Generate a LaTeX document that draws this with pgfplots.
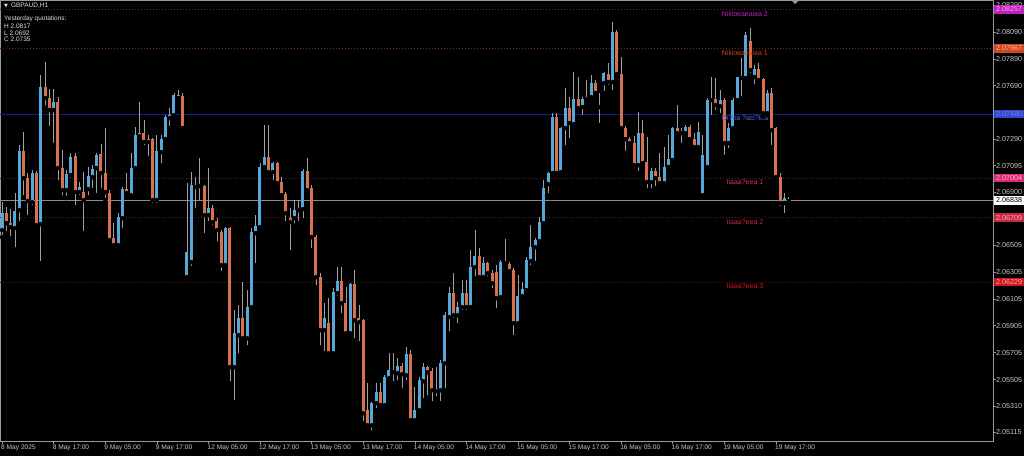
\documentclass[border=0pt]{standalone}
\usepackage{pgfplots}
\pgfplotsset{compat=1.18}
\usepackage{pgfplotstable}
\usepackage{fontspec}
\setmainfont{Liberation Sans}
\newfontfamily\symfont{DejaVu Sans}

\definecolor{bull}{HTML}{55A8DA}
\definecolor{bear}{HTML}{D9714E}
\definecolor{wick}{HTML}{A0A0A0}
\definecolor{frame}{HTML}{9A9A9A}
\definecolor{lbl}{HTML}{C8C8C8}
\definecolor{resB}{HTML}{C020C0}
\definecolor{resA}{HTML}{D2461E}
\definecolor{pivot}{HTML}{1428C8}
\definecolor{supA}{HTML}{DC2878}
\definecolor{supB}{HTML}{C8283C}
\definecolor{supC}{HTML}{D2141E}
\definecolor{cur}{HTML}{8C8C8C}

% GBPAUD H1: bar index, open, high, low, close
\pgfplotstableread{
h o hi lo c
0 2.06616 2.06824 2.06564 2.06742
1 2.06742 2.06787 2.06593 2.06668
2 2.06668 2.06772 2.06556 2.06638
3 2.06631 2.06891 2.06474 2.06757
4 2.06765 2.07248 2.06668 2.07204
5 2.07204 2.07345 2.06861 2.07003
6 2.07003 2.07040 2.06713 2.06832
7 2.06824 2.07062 2.06787 2.07040
8 2.07040 2.07055 2.06638 2.06653
9 2.06660 2.07769 2.06370 2.07680
10 2.07680 2.07866 2.07531 2.07598
11 2.07598 2.07665 2.07375 2.07509
12 2.07509 2.07665 2.07248 2.07568
13 2.07568 2.07605 2.06973 2.07077
14 2.07077 2.07211 2.06861 2.06913
15 2.06913 2.07062 2.06854 2.07032
16 2.07025 2.07189 2.06988 2.07159
17 2.07166 2.07189 2.06787 2.06899
18 2.06899 2.06973 2.06861 2.06936
19 2.06899 2.07047 2.06593 2.06839
20 2.06921 2.07085 2.06861 2.07018
21 2.07010 2.07099 2.06913 2.07070
22 2.07077 2.07189 2.06876 2.07174
23 2.07181 2.07256 2.06913 2.07040
24 2.07040 2.07375 2.06839 2.06899
25 2.06891 2.06913 2.06527 2.06541
26 2.06556 2.06668 2.06482 2.06504
27 2.06504 2.06742 2.06489 2.06713
28 2.06705 2.06936 2.06616 2.06921
29 2.06921 2.07040 2.06861 2.06891
30 2.06876 2.07189 2.06861 2.07077
31 2.07077 2.07382 2.07062 2.07323
32 2.07315 2.07568 2.07300 2.07337
33 2.07337 2.07434 2.07233 2.07271
34 2.07293 2.07323 2.07151 2.07271
35 2.07293 2.07300 2.06802 2.06839
36 2.06839 2.07323 2.06802 2.07204
37 2.07196 2.07323 2.07099 2.07293
38 2.07293 2.07471 2.07278 2.07457
39 2.07449 2.07523 2.07375 2.07471
40 2.07471 2.07635 2.07457 2.07620
41 2.07620 2.07657 2.07583 2.07598
42 2.07613 2.07635 2.07345 2.07375
43 2.06266 2.06965 2.06266 2.06452
44 2.06378 2.07047 2.06333 2.06951
45 2.06951 2.07010 2.06765 2.06936
46 2.06943 2.07151 2.06817 2.06950
47 2.06943 2.06951 2.06579 2.06727
48 2.06727 2.07077 2.06668 2.06779
49 2.06779 2.06802 2.06638 2.06675
50 2.06683 2.06705 2.06519 2.06616
51 2.06601 2.06616 2.06296 2.06355
52 2.06355 2.06638 2.06341 2.06631
53 2.06631 2.06638 2.05477 2.05597
54 2.05597 2.06021 2.05336 2.05849
55 2.05835 2.06058 2.05686 2.05961
56 2.05961 2.06229 2.05783 2.05812
57 2.05812 2.06169 2.05745 2.06043
58 2.06043 2.06631 2.06035 2.06601
59 2.06593 2.06727 2.06355 2.06646
60 2.06638 2.07114 2.06631 2.07085
61 2.07085 2.07397 2.07077 2.07159
62 2.07159 2.07397 2.07040 2.07047
63 2.07047 2.07122 2.06973 2.07114
64 2.07114 2.07122 2.06951 2.06965
65 2.06973 2.07010 2.06854 2.06876
66 2.06884 2.06899 2.06668 2.06742
67 2.06705 2.06779 2.06452 2.06675
68 2.06705 2.06839 2.06653 2.06765
69 2.06765 2.06839 2.06668 2.06779
70 2.06772 2.07070 2.06690 2.07055
71 2.07055 2.07151 2.06899 2.06913
72 2.06928 2.06951 2.06467 2.06564
73 2.06564 2.06579 2.06192 2.06266
74 2.06266 2.06296 2.05745 2.05872
75 2.05872 2.06073 2.05701 2.05961
76 2.05924 2.06110 2.05671 2.05701
77 2.05701 2.06184 2.05686 2.06155
78 2.06147 2.06341 2.06110 2.06236
79 2.06236 2.06341 2.05983 2.06073
80 2.06073 2.06192 2.05835 2.05849
81 2.05849 2.06221 2.05835 2.06214
82 2.06214 2.06318 2.05797 2.05946
83 2.05961 2.06058 2.05775 2.05931
84 2.05946 2.05954 2.05180 2.05254
85 2.05277 2.05477 2.05143 2.05165
86 2.05165 2.05336 2.05113 2.05329
87 2.05329 2.05477 2.05277 2.05411
88 2.05411 2.05477 2.05299 2.05314
89 2.05314 2.05537 2.05299 2.05522
90 2.05515 2.05701 2.05485 2.05574
91 2.05559 2.05701 2.05477 2.05566
92 2.05552 2.05663 2.05485 2.05604
93 2.05604 2.05626 2.05425 2.05544
94 2.05537 2.05745 2.05485 2.05693
95 2.05693 2.05723 2.05180 2.05202
96 2.05202 2.05448 2.05187 2.05277
97 2.05277 2.05522 2.05262 2.05500
98 2.05492 2.05626 2.05351 2.05597
99 2.05597 2.05604 2.05373 2.05559
100 2.05567 2.05589 2.05329 2.05425
101 2.05433 2.05597 2.05366 2.05418
102 2.05425 2.05649 2.05329 2.05626
103 2.05626 2.06006 2.05425 2.05983
104 2.05969 2.06192 2.05849 2.06147
105 2.06147 2.06296 2.05946 2.05983
106 2.05983 2.06080 2.05909 2.06043
107 2.06043 2.06244 2.06006 2.06147
108 2.06147 2.06244 2.06006 2.06043
109 2.06043 2.06467 2.06021 2.06341
110 2.06341 2.06616 2.06259 2.06422
111 2.06422 2.06482 2.06259 2.06266
112 2.06266 2.06415 2.06244 2.06370
113 2.06370 2.06378 2.06259 2.06296
114 2.06296 2.06318 2.06169 2.06221
115 2.06303 2.06355 2.06021 2.06110
116 2.06117 2.06393 2.06110 2.06378
117 2.06370 2.06549 2.06341 2.06377
118 2.06363 2.06378 2.06296 2.06311
119 2.06318 2.06333 2.05820 2.05924
120 2.05924 2.06281 2.05909 2.06125
121 2.06125 2.06229 2.06117 2.06177
122 2.06169 2.06415 2.06147 2.06393
123 2.06385 2.06653 2.06341 2.06489
124 2.06489 2.06556 2.06370 2.06541
125 2.06534 2.06713 2.06527 2.06675
126 2.06668 2.06988 2.06638 2.06928
127 2.06958 2.07047 2.06876 2.07040
128 2.07040 2.07486 2.07025 2.07457
129 2.07457 2.07486 2.07025 2.07040
130 2.07047 2.07382 2.07040 2.07375
131 2.07375 2.07672 2.07233 2.07523
132 2.07523 2.07605 2.07285 2.07412
133 2.07404 2.07791 2.07382 2.07590
134 2.07590 2.07754 2.07509 2.07523
135 2.07531 2.07605 2.07457 2.07590
136 2.07590 2.07732 2.07583 2.07605
137 2.07605 2.07769 2.07583 2.07709
138 2.07709 2.07732 2.07620 2.07635
139 2.07531 2.07635 2.07397 2.07538
140 2.07709 2.07791 2.07635 2.07784
141 2.07776 2.07858 2.07680 2.07717
142 2.07717 2.08163 2.07643 2.08089
143 2.08089 2.08104 2.07769 2.07776
144 2.07776 2.07903 2.07360 2.07375
145 2.07375 2.07390 2.07189 2.07293
146 2.07293 2.07308 2.07233 2.07263
147 2.07263 2.07315 2.07085 2.07099
148 2.07099 2.07494 2.07040 2.07337
149 2.07337 2.07434 2.07099 2.07114
150 2.07122 2.07308 2.06913 2.06973
151 2.06973 2.07077 2.06913 2.07055
152 2.07055 2.07077 2.06928 2.07003
153 2.07010 2.07189 2.06951 2.06965
154 2.06965 2.07233 2.06951 2.07085
155 2.07085 2.07323 2.07077 2.07144
156 2.07137 2.07382 2.07122 2.07375
157 2.07375 2.07546 2.07323 2.07337
158 2.07337 2.07375 2.07248 2.07344
159 2.07337 2.07397 2.07308 2.07382
160 2.07382 2.07397 2.07285 2.07293
161 2.07293 2.07337 2.07226 2.07233
162 2.07233 2.07419 2.07211 2.07345
163 2.06876 2.07323 2.06861 2.07174
164 2.07085 2.07598 2.07077 2.07583
165 2.07598 2.07754 2.07457 2.07583
166 2.07590 2.07747 2.07494 2.07546
167 2.07538 2.07657 2.07471 2.07583
168 2.07583 2.07598 2.07159 2.07263
169 2.07263 2.07412 2.07211 2.07375
170 2.07375 2.07598 2.07345 2.07583
171 2.07583 2.07754 2.07568 2.07754
172 2.07747 2.07895 2.07598 2.07754
173 2.07747 2.08089 2.07732 2.08067
174 2.08022 2.08119 2.07769 2.07806
175 2.07754 2.07843 2.07687 2.07814
176 2.07814 2.07858 2.07717 2.07732
177 2.07739 2.07747 2.07457 2.07486
178 2.07486 2.07657 2.07471 2.07635
179 2.07635 2.07672 2.07233 2.07360
180 2.07375 2.07382 2.07003 2.07010
181 2.07010 2.07040 2.06779 2.06817
182 2.06817 2.06891 2.06727 2.06854
183 2.06830 2.06861 2.06817 2.06838
}\gbpaud

\begin{document}
\begin{tikzpicture}
\fill[black] (0,0) rectangle (1024pt,456pt);
\useasboundingbox (0,0) rectangle (1024pt,456pt);
\begin{axis}[
  at={(0pt,15pt)}, anchor=south west,
  width=993pt, height=441pt, scale only axis,
  xmin=-0.47, xmax=230.5, ymin=2.05048, ymax=2.08327,
  clip=false,
  axis line style={frame, line width=0.6pt},
  tick style={frame, line width=0.5pt},
  major tick length=3pt,
  tick align=outside,
  xtick pos=bottom, ytick pos=right, yticklabel pos=right,
  scaled y ticks=false,
  xtick={0,12,...,180},
  xticklabels={8 May 2025, 8 May 17:00, 9 May 05:00, 9 May 17:00, 12 May 05:00, 12 May 17:00, 13 May 05:00, 13 May 17:00, 14 May 05:00, 14 May 17:00, 15 May 05:00, 15 May 17:00, 16 May 05:00, 16 May 17:00, 19 May 05:00, 19 May 17:00},
  ytick={2.08290,2.08090,2.07890,2.07690,2.07490,2.07290,2.07095,2.06900,2.06700,2.06505,2.06305,2.06105,2.05905,2.05705,2.05505,2.05310,2.05115},
  yticklabels={2.08290,2.08090,2.07890,2.07690,2.07490,2.07290,2.07095,2.06900,2.06700,2.06505,2.06305,2.06105,2.05905,2.05705,2.05505,2.05310,2.05115},
  xticklabel style={anchor=north west, xshift=-2pt, inner sep=1pt, text=lbl, font=\fontsize{6.6}{7}\selectfont},
  yticklabel style={anchor=west, xshift=-1pt, inner sep=1pt, text=lbl, font=\fontsize{7.2}{8}\selectfont},
]
% level lines
\addplot[resB!60!black, line width=0.5pt, dash pattern=on 1pt off 2pt] coordinates {(-0.47,2.08257) (230.5,2.08257)};
\addplot[resA!60!black, line width=0.5pt, dash pattern=on 1pt off 2pt] coordinates {(-0.47,2.07967) (230.5,2.07967)};
\addplot[pivot!75!black, line width=0.8pt] coordinates {(-0.47,2.07480) (230.5,2.07480)};
\addplot[supA!55!black, line width=0.5pt, dash pattern=on 1pt off 2pt] coordinates {(-0.47,2.07004) (230.5,2.07004)};
\addplot[cur, line width=0.6pt] coordinates {(-0.47,2.06838) (230.5,2.06838)};
\addplot[supB!55!black, line width=0.5pt, dash pattern=on 1pt off 2pt] coordinates {(-0.47,2.06709) (230.5,2.06709)};
\addplot[supC!55!black, line width=0.5pt, dash pattern=on 1pt off 2pt] coordinates {(-0.47,2.06229) (230.5,2.06229)};
% wicks
\addplot[only marks, mark=none, error bars/.cd, y dir=plus, y explicit, error mark=none,
  error bar style={wick, line width=0.7pt}]
  table[x=h, y=lo, y error expr={\thisrow{hi}-\thisrow{lo}}] {\gbpaud};
% bodies: rising
\addplot[only marks, mark=none, restrict expr to domain={\thisrow{c}-\thisrow{o}}{0:1},
  error bars/.cd, y dir=plus, y explicit, error mark=none,
  error bar style={bull, line width=3pt}]
  table[x=h, y=o, y error expr={\thisrow{c}-\thisrow{o}}] {\gbpaud};
% bodies: falling
\addplot[only marks, mark=none, restrict expr to domain={\thisrow{o}-\thisrow{c}}{0:1},
  error bars/.cd, y dir=plus, y explicit, error mark=none,
  error bar style={bear, line width=3pt}]
  table[x=h, y=c, y error expr={\thisrow{o}-\thisrow{c}}] {\gbpaud};
% level captions
\begin{scope}[every node/.style={anchor=north, inner sep=0.5pt, yshift=-1pt, font=\fontsize{7}{8}\selectfont}]
\node[text=resB] at (axis cs:172.8,2.08257) {Niiiioeaeaiea 2};
\node[text=resA] at (axis cs:172.8,2.07967) {Niiiioeaeaiea 1};
\node[text=pivot!70!white] at (axis cs:172.8,2.07480) {Oi?ea ?aci?ioa};
\node[text=supA] at (axis cs:172.8,2.07004) {Iiaaa?eea 1};
\node[text=supB] at (axis cs:172.8,2.06709) {Iiaaa?eea 2};
\node[text=supC] at (axis cs:172.8,2.06229) {Iiaaa?eea 3};
\end{scope}
\coordinate (bR2) at (axis cs:230.5,2.08257);
\coordinate (bR1) at (axis cs:230.5,2.07967);
\coordinate (bPV) at (axis cs:230.5,2.07480);
\coordinate (bS1) at (axis cs:230.5,2.07004);
\coordinate (bCU) at (axis cs:230.5,2.06838);
\coordinate (bS2) at (axis cs:230.5,2.06709);
\coordinate (bS3) at (axis cs:230.5,2.06229);
\end{axis}
% price boxes on the scale
\begin{scope}[every node/.style={anchor=west, xshift=1pt, minimum height=8.5pt, minimum width=30pt, inner sep=0pt, font=\fontsize{7.2}{8}\selectfont}]
\node[fill=resB, text=resB!35!white] at (bR2) {2.08257};
\node[fill=resA, text=resA!35!white] at (bR1) {2.07967};
\node[fill=pivot!85!white, text=pivot!60!white] at (bPV) {2.07480};
\node[fill=supA, text=supA!35!white] at (bS1) {2.07004};
\node[fill=white, text=black] at (bCU) {2.06838};
\node[fill=supB, text=supB!35!white] at (bS2) {2.06709};
\node[fill=supC, text=supC!35!white] at (bS3) {2.06229};
\end{scope}
% header text
\begin{scope}[every node/.style={anchor=west, inner sep=0pt, text=white!88!black, font=\fontsize{6.5}{7}\selectfont}]
\node at (4pt,450.3pt) {{\symfont\fontsize{5}{6}\selectfont ▼}\hspace{3pt}GBPAUD,H1};
\node at (4pt,436.7pt) {Yesterday quotations:};
\node at (4pt,430pt) {H 2.0817};
\node at (4pt,423pt) {L 2.0692};
\node at (4pt,416.3pt) {C 2.0735};
\end{scope}
\fill[frame] (791pt,456pt) -- (799pt,456pt) -- (795pt,452pt) -- cycle;
\end{tikzpicture}
\end{document}
